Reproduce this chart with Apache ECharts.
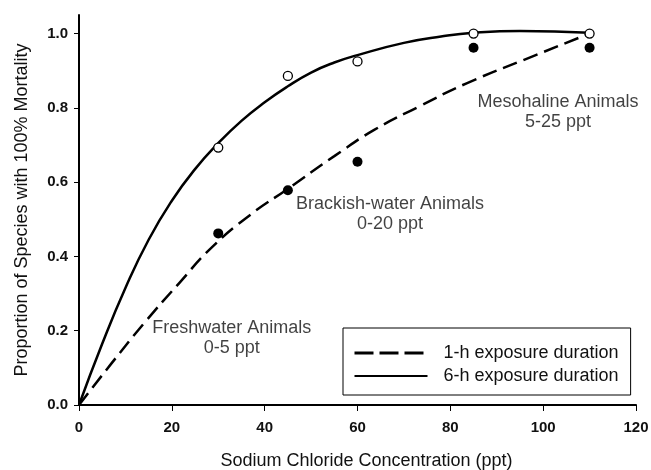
<!DOCTYPE html>
<html>
<head>
<meta charset="utf-8">
<script src="https://cdn.jsdelivr.net/npm/echarts@6/dist/echarts.min.js"></script>
<style>
  html, body { margin: 0; padding: 0; background: #fff; }
  #chart { width: 651px; height: 470px; }
</style>
</head>
<body>
<div id="chart"></div>
<script>
// measured points
const concentration = [30, 45, 60, 85, 110];
const mortality1h = [0.462, 0.578, 0.655, 0.962, 0.962];
const mortality6h = [0.693, 0.886, 0.925, 1.0, 1.0];

// fitted curves
const fit1hX = [0, 7, 14, 21.5, 28.5, 37, 45, 55, 63.5, 73.5, 83.5, 98, 110];
const fit1hY = [0, 0.112, 0.22, 0.327, 0.423, 0.513, 0.582, 0.67, 0.74, 0.805, 0.866, 0.94, 1.0];
const fit6hX = [0, 5, 10, 15, 20, 25, 30, 35, 40, 45, 50, 55, 60, 70, 78, 85, 95, 110];
const fit6hY = [0, 0.165, 0.315, 0.445, 0.55, 0.635, 0.705, 0.765, 0.815, 0.858, 0.895, 0.922, 0.942, 0.975, 0.992, 1.002, 1.007, 1.002];

const yTicks = [0, 0.2, 0.4, 0.6, 0.8, 1.0];

const noteText = ['Freshwater Animals\n0-5 ppt', 'Brackish-water Animals\n0-20 ppt', 'Mesohaline Animals\n5-25 ppt'];
const noteX = [32.9, 67, 103.2];
const noteY = [0.18, 0.515, 0.79];

const font = "'Liberation Sans', Arial, sans-serif";
const ink = '#111';
const zip = (xs, ys) => xs.map((x, i) => [x, ys[i]]);

const chart = echarts.init(document.getElementById('chart'));
chart.setOption({
  animation: false,
  textStyle: { fontFamily: font },
  grid: { left: 79, right: 15, top: 15, bottom: 65, outerBoundsMode: 'none' },
  xAxis: {
    type: 'value', min: 0, max: 120, interval: 20,
    name: 'Sodium Chloride Concentration (ppt)',
    nameLocation: 'middle', nameGap: 47,
    nameTextStyle: { fontSize: 18, color: ink, fontFamily: font, padding: [0, 0, 0, 18] },
    axisLine: { lineStyle: { color: '#000', width: 2 } },
    axisTick: { length: 6, lineStyle: { color: '#000', width: 1 } },
    axisLabel: { margin: 15, fontSize: 15, fontWeight: 'bold', color: ink, fontFamily: font },
    splitLine: { show: false }
  },
  yAxis: {
    type: 'value', min: 0, max: 1.05,
    name: 'Proportion of Species with 100% Mortality',
    nameLocation: 'middle', nameGap: 48,
    nameTextStyle: { fontSize: 18, color: ink, fontFamily: font },
    axisLine: { show: true, lineStyle: { color: '#000', width: 2 } },
    axisTick: { show: true, length: 5, customValues: yTicks, lineStyle: { color: '#000', width: 1 } },
    axisLabel: {
      margin: 11, fontSize: 15, fontWeight: 'bold', color: ink, fontFamily: font,
      customValues: yTicks, formatter: v => v.toFixed(1)
    },
    splitLine: { show: false }
  },
  legend: {
    orient: 'vertical', left: 343, top: 328,
    padding: [16, 12, 10, 10],
    borderColor: '#000', borderWidth: 1,
    itemWidth: 73, itemHeight: 18, itemGap: 5,
    itemStyle: { opacity: 0 },
    textStyle: { fontSize: 18, color: ink, fontFamily: font, padding: [0, 0, 0, 11] },
    data: [
      { name: '1-h exposure duration', lineStyle: { type: [19, 6], width: 3 } },
      { name: '6-h exposure duration' }
    ]
  },
  series: [
    {
      name: '1-h exposure duration', type: 'line', data: zip(fit1hX, fit1hY),
      smooth: 0.5, symbol: 'none', color: '#000',
      lineStyle: { color: '#000', width: 2.5, type: [15, 7] }, z: 2
    },
    {
      name: '6-h exposure duration', type: 'line', data: zip(fit6hX, fit6hY),
      smooth: 0.5, symbol: 'none', color: '#000',
      lineStyle: { color: '#000', width: 2.5 }, z: 2
    },
    {
      name: '1-h points', type: 'scatter', data: zip(concentration, mortality1h),
      symbolSize: 10, itemStyle: { color: '#000', opacity: 1 }, z: 3
    },
    {
      name: '6-h points', type: 'scatter', data: zip(concentration, mortality6h),
      symbolSize: 9, itemStyle: { color: '#fff', borderColor: '#000', borderWidth: 1.3, opacity: 1 }, z: 4
    },
    {
      name: 'notes', type: 'scatter', silent: true, symbolSize: 0,
      data: noteText.map((t, i) => ({ value: [noteX[i], noteY[i]], label: { formatter: t } })),
      label: {
        show: true, position: 'inside', align: 'center', verticalAlign: 'middle',
        fontSize: 18, lineHeight: 20, color: ink, fontFamily: font
      }
    }
  ]
});
</script>
</body>
</html>
